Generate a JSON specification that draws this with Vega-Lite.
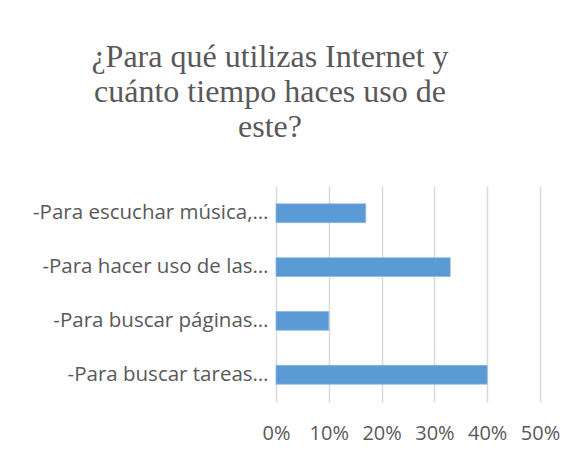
{
  "$schema": "https://vega.github.io/schema/vega-lite/v6.json",
  "width": 264,
  "height": 216,
  "autosize": "none",
  "padding": {"left": 276, "top": 186, "right": 43, "bottom": 57},
  "background": "white",
  "title": {
    "text": ["¿Para qué utilizas Internet y", "cuánto tiempo haces uso de", "este?"],
    "font": "Liberation Serif",
    "fontSize": 32,
    "fontWeight": "normal",
    "color": "#595959",
    "anchor": "middle",
    "dx": -138,
    "lineHeight": 35,
    "offset": 42
  },
  "data": {
    "values": [
      {"categoria": "-Para escuchar música,…", "valor": 0.17},
      {"categoria": "-Para hacer uso de las…", "valor": 0.33},
      {"categoria": "-Para buscar páginas…", "valor": 0.10},
      {"categoria": "-Para buscar tareas…", "valor": 0.40}
    ]
  },
  "mark": {"type": "bar", "color": "#5B9BD5", "stroke": "#8DB8E2", "strokeWidth": 0.7},
  "encoding": {
    "y": {
      "field": "categoria",
      "type": "nominal",
      "sort": null,
      "scale": {"paddingInner": 0.65, "paddingOuter": 0.33},
      "axis": {
        "title": null,
        "ticks": false,
        "domain": false,
        "labelFont": "Open Sans",
        "labelFontSize": 20.5,
        "labelColor": "#595959",
        "labelPadding": 8,
        "labelLimit": 300
      }
    },
    "x": {
      "field": "valor",
      "type": "quantitative",
      "scale": {"domain": [0, 0.5]},
      "axis": {
        "title": null,
        "format": ".0%",
        "values": [0, 0.1, 0.2, 0.3, 0.4, 0.5],
        "labelOverlap": false,
        "labelFlush": false,
        "ticks": false,
        "domain": false,
        "grid": true,
        "gridColor": "#D9D9D9",
        "gridWidth": 1.5,
        "labelFont": "Open Sans",
        "labelFontSize": 20,
        "labelColor": "#595959",
        "labelPadding": 21
      }
    }
  },
  "config": {"view": {"stroke": null}}
}
